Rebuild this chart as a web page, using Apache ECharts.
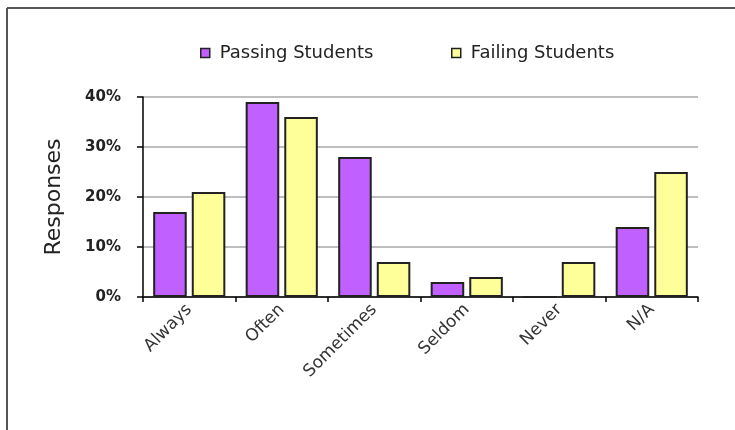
<!DOCTYPE html>
<html>
<head>
<meta charset="utf-8">
<style>
  html, body { margin: 0; padding: 0; background: #ffffff; }
  #chart { width: 735px; height: 430px; }
</style>
<script src="https://cdn.jsdelivr.net/npm/echarts@6/dist/echarts.min.js"></script>
</head>
<body>
<div id="chart"></div>
<script>
// Survey answers by frequency, share of responses (%)
const categories = ['Always', 'Often', 'Sometimes', 'Seldom', 'Never', 'N/A'];
const passingStudents = [17, 39, 28, 3, 0, 14];
const failingStudents = [21, 36, 7, 4, 7, 25];
const seriesNames = ['Passing Students', 'Failing Students'];
const yTicks = [0, 10, 20, 30, 40];

const PURPLE = '#bf60ff';
const YELLOW = '#ffff99';
const EDGE = '#222222';
const FONT = 'DejaVu Sans';

const chart = echarts.init(document.getElementById('chart'), null, { renderer: 'canvas' });

const legendCommon = {
  top: 39,
  itemWidth: 9,
  itemHeight: 9,
  icon: 'rect',
  selectedMode: false,
  textStyle: { fontFamily: FONT, fontSize: 18, color: '#222', padding: [0, 0, 0, 5] },
  itemStyle: { borderColor: EDGE, borderWidth: 1.5 }
};

chart.setOption({
  animation: false,
  backgroundColor: '#ffffff',
  graphic: [
    { type: 'line', shape: { x1: 7, y1: 8, x2: 735, y2: 8 }, style: { stroke: '#555', lineWidth: 2 } },
    { type: 'line', shape: { x1: 7, y1: 8, x2: 7, y2: 430 }, style: { stroke: '#555', lineWidth: 2 } }
  ],
  legend: [
    Object.assign({ left: 195, data: [seriesNames[0]] }, legendCommon),
    Object.assign({ left: 446, data: [seriesNames[1]] }, legendCommon)
  ],
  grid: { left: 143, right: 37, top: 97, bottom: 133, containLabel: false },
  xAxis: {
    type: 'category',
    data: categories,
    axisLine: { lineStyle: { color: '#000', width: 1.5 } },
    axisTick: { show: true, length: 5, lineStyle: { color: '#000', width: 1.5 } },
    axisLabel: {
      rotate: 45,
      interval: 0,
      margin: 10,
      fontFamily: FONT,
      fontSize: 17,
      color: '#333'
    }
  },
  yAxis: {
    type: 'value',
    min: yTicks[0],
    max: yTicks[yTicks.length - 1],
    interval: 10,
    name: 'Responses',
    nameLocation: 'middle',
    nameGap: 78,
    nameTextStyle: { fontFamily: FONT, fontSize: 22, color: '#222' },
    axisLine: { show: true, lineStyle: { color: '#000', width: 1.5 } },
    axisTick: { show: true, length: 6, lineStyle: { color: '#000', width: 1.5 } },
    axisLabel: {
      margin: 22,
      fontFamily: FONT,
      fontSize: 15,
      fontWeight: 'bold',
      color: '#222',
      formatter: v => v + '%'
    },
    splitLine: { show: true, lineStyle: { color: '#a8a8a8', width: 1.5 } }
  },
  series: [
    {
      name: seriesNames[0],
      type: 'bar',
      data: passingStudents,
      barGap: '15%',
      barCategoryGap: '22%',
      itemStyle: { color: PURPLE, borderColor: EDGE, borderWidth: 2 }
    },
    {
      name: seriesNames[1],
      type: 'bar',
      data: failingStudents,
      itemStyle: { color: YELLOW, borderColor: EDGE, borderWidth: 2 }
    }
  ]
});
</script>
</body>
</html>
